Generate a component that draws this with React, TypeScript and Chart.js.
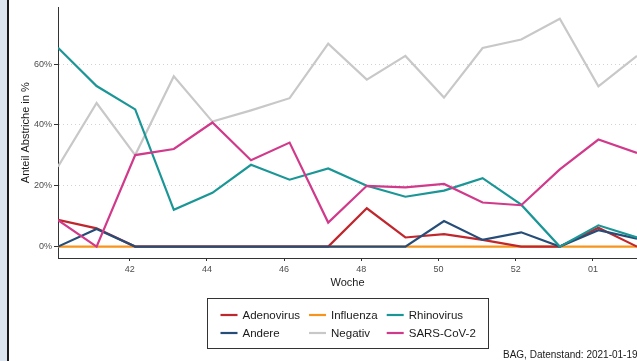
import React, { useEffect, useRef } from "react";
import { Chart, registerables } from "chart.js";

Chart.register(...registerables);

// ---- data ----
const weeks = ["40", "41", "42", "43", "44", "45", "46", "47", "48", "49", "50", "51", "52", "53", "01", "02"];
const xTickLabels = ["42", "44", "46", "48", "50", "52", "01"];
const yTickValues = [0, 20, 40, 60];

const adenovirus = [8.8, 6.0, 0, 0, 0, 0, 0, 0, 12.6, 3.0, 4.1, 2.2, 0, 0, 6.2, 0];
const andere = [0, 5.8, 0, 0, 0, 0, 0, 0, 0, 0, 8.4, 2.2, 4.7, 0, 5.4, 2.6];
const influenza = [0, 0, 0, 0, 0, 0, 0, 0, 0, 0, 0, 0, 0, 0, 0, 0];
const negativ = [26.3, 47.2, 30.1, 56.0, 41.1, 44.8, 48.8, 66.7, 54.9, 62.7, 49.0, 65.3, 68.1, 74.9, 52.7, 62.7];
const rhinovirus = [65.4, 52.8, 45.1, 12.1, 17.7, 26.9, 22.0, 25.7, 20.0, 16.4, 18.4, 22.5, 13.8, 0, 7.0, 3.0];
const sarsCov2 = [8.7, 0, 30.1, 32.1, 40.8, 28.4, 34.2, 7.9, 20.0, 19.5, 20.6, 14.5, 13.6, 25.4, 35.2, 30.8];

const seriesNames = ["Adenovirus", "Andere", "Influenza", "Negativ", "Rhinovirus", "SARS-CoV-2"];
const seriesValues = [adenovirus, andere, influenza, negativ, rhinovirus, sarsCov2];
const seriesColors = ["#c0272d", "#264d78", "#f7941d", "#c8c8c8", "#1b9696", "#d1398b"];
const seriesOrder = [5, 4, 6, 3, 2, 1];

const caption = "BAG, Datenstand: 2021-01-19";
const DAY_OFFSET = 1 / 7;

const FONT = "'Liberation Sans', Arial, Helvetica, sans-serif";

export default function App() {
  const ref = useRef<HTMLCanvasElement | null>(null);

  useEffect(() => {
    const canvas = ref.current;
    if (!canvas) return;

    const all = seriesValues.flat();
    const dMax = Math.max(...all);
    const dMin = Math.min(...all);
    const expand = 0.05 * (dMax - dMin);

    const tickPositions = xTickLabels.map((l) => weeks.indexOf(l) - DAY_OFFSET);

    const deco = {
      id: "deco",
      beforeDraw(chart: any) {
        const c = chart.ctx;
        c.save();
        c.fillStyle = "#ffffff";
        c.fillRect(0, 0, chart.width, chart.height);
        c.fillStyle = "#dce5f0";
        c.fillRect(0, 0, 7, chart.height);
        c.fillStyle = "#1a1a1a";
        c.fillRect(7, 0, 2, chart.height);
        c.restore();
      },
      afterDraw(chart: any) {
        const c = chart.ctx;
        const ca = chart.chartArea;
        c.save();
        // legend
        const fs = 11.5;
        c.font = `${fs}px ${FONT}`;
        const keyW = 17;
        const keyGap = 5;
        const colGap = 9;
        const padX = 13;
        const ds = chart.data.datasets;
        const nCols = Math.ceil(ds.length / 2);
        const colWidths: number[] = [];
        for (let col = 0; col < nCols; col++) {
          let w = 0;
          for (let r = 0; r < 2; r++) {
            const d = ds[col * 2 + r];
            if (d) w = Math.max(w, c.measureText(d.label).width);
          }
          colWidths.push(keyW + keyGap + w);
        }
        const contentW = colWidths.reduce((a, b) => a + b, 0) + colGap * (nCols - 1);
        const boxW = contentW + padX * 2;
        const cx = (ca.left + ca.right) / 2;
        const boxL = Math.round(cx - boxW / 2) + 0.5;
        const boxT = 298.5;
        const boxH = 50;
        c.strokeStyle = "#333333";
        c.lineWidth = 1;
        c.strokeRect(boxL, boxT, Math.round(boxW), boxH);
        const rowY = [315, 333];
        let x = boxL + padX;
        for (let col = 0; col < nCols; col++) {
          for (let r = 0; r < 2; r++) {
            const d = ds[col * 2 + r];
            if (!d) continue;
            const y = rowY[r];
            c.strokeStyle = d.borderColor;
            c.lineWidth = 2.2;
            c.beginPath();
            c.moveTo(x, y);
            c.lineTo(x + keyW, y);
            c.stroke();
            c.fillStyle = "#1a1a1a";
            c.textAlign = "left";
            c.textBaseline = "middle";
            c.fillText(d.label, x + keyW + keyGap, y + 0.5);
          }
          x += colWidths[col] + colGap;
        }
        // caption
        c.font = `10px ${FONT}`;
        c.fillStyle = "#1a1a1a";
        c.textAlign = "left";
        c.textBaseline = "middle";
        c.fillText(caption, 503, 355);
        c.restore();
      },
    };

    const chart = new Chart(canvas, {
      type: "line",
      data: {
        datasets: seriesNames.map((name, i) => ({
          label: name,
          data: seriesValues[i].map((v, k) => ({ x: k, y: v })),
          borderColor: seriesColors[i],
          backgroundColor: seriesColors[i],
          borderWidth: 2.2,
          pointRadius: 0,
          tension: 0,
          fill: false,
          order: seriesOrder[i],
        })),
      },
      options: {
        responsive: false,
        animation: false,
        devicePixelRatio: 1,
        layout: { padding: { top: 5, right: 0, bottom: 0, left: 0 } },
        plugins: {
          legend: { display: false },
          tooltip: { enabled: false },
          title: { display: false },
        },
        scales: {
          x: {
            type: "linear",
            min: 0,
            max: weeks.length - 1,
            afterFit: (s: any) => {
              s.height = 103;
            },
            afterBuildTicks: (s: any) => {
              s.ticks = tickPositions.map((v) => ({ value: v }));
            },
            ticks: {
              autoSkip: false,
              maxRotation: 0,
              padding: 3,
              color: "#4d4d4d",
              font: { family: FONT, size: 9 },
              callback: (_v: any, i: number) => xTickLabels[i],
            },
            grid: {
              display: true,
              drawOnChartArea: false,
              drawTicks: true,
              tickLength: 3,
              tickColor: "#333333",
              tickWidth: 1,
            },
            border: { display: true, color: "#333333", width: 1 },
            title: {
              display: true,
              text: "Woche",
              color: "#1a1a1a",
              font: { family: FONT, size: 11 },
              padding: { top: 0, bottom: 71 },
            },
          },
          y: {
            type: "linear",
            min: dMin - expand,
            max: dMax + expand,
            afterFit: (s: any) => {
              s.width = 58;
            },
            afterBuildTicks: (s: any) => {
              s.ticks = yTickValues.map((v) => ({ value: v }));
            },
            ticks: {
              padding: 2,
              color: "#4d4d4d",
              font: { family: FONT, size: 9 },
              callback: (v: any) => `${v}%`,
            },
            grid: {
              display: true,
              drawOnChartArea: true,
              drawTicks: true,
              tickLength: 4,
              color: "#d2d2d2",
              lineWidth: 1,
              tickColor: "#333333",
              tickWidth: 1,
            },
            border: { display: true, color: "#333333", width: 1, dash: [1, 3] },
            title: {
              display: true,
              text: "Anteil Abstriche in %",
              color: "#1a1a1a",
              font: { family: FONT, size: 11 },
              padding: { top: 19, bottom: 0 },
            },
          },
        },
      },
      plugins: [deco],
    });

    return () => chart.destroy();
  }, []);

  return (
    <div style={{ position: "absolute", left: 0, top: 0, width: 637, height: 361 }}>
      <canvas ref={ref} width={637} height={361} style={{ display: "block", width: 637, height: 361 }} />
    </div>
  );
}
